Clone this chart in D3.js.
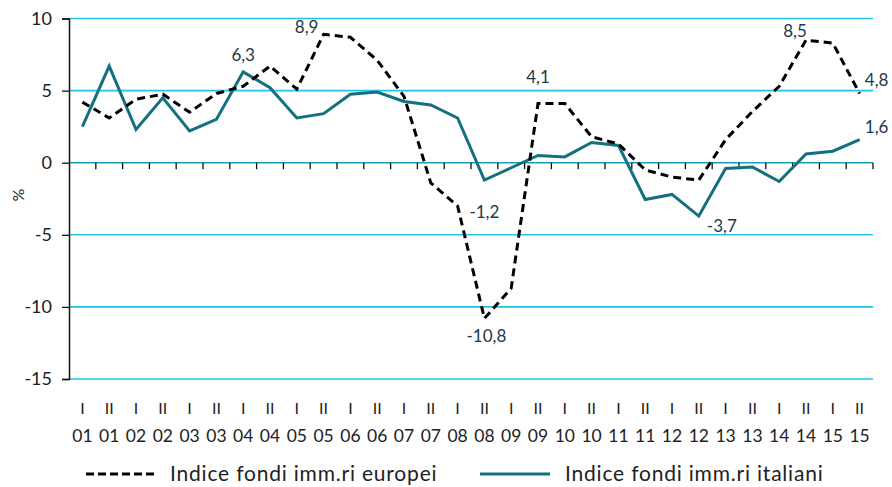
<!DOCTYPE html>
<html><head><meta charset="utf-8">
<script src="https://cdn.jsdelivr.net/npm/d3@7"></script>
<style>
html,body{margin:0;padding:0;background:#fff;}
svg{display:block;font-family:Lato,"Open Sans",sans-serif;}
</style></head>
<body><svg id="c" width="892" height="487"></svg>
<script>
const halves = ["I","II","I","II","I","II","I","II","I","II","I","II","I","II","I","II","I","II","I","II","I","II","I","II","I","II","I","II","I","II"];
const years = ["01","01","02","02","03","03","04","04","05","05","06","06","07","07","08","08","09","09","10","10","11","11","12","12","13","13","14","14","15","15"];
const european = [4.2,3.1,4.4,4.75,3.5,4.8,5.3,6.7,5.1,8.9,8.7,7.1,4.6,-1.4,-3.0,-10.8,-8.7,4.1,4.1,1.8,1.3,-0.5,-1.0,-1.2,1.6,3.55,5.3,8.5,8.3,4.8];
const italian = [2.5,6.7,2.3,4.5,2.2,3.0,6.3,5.2,3.1,3.4,4.75,4.9,4.25,4.0,3.1,-1.2,-0.35,0.5,0.4,1.4,1.2,-2.55,-2.2,-3.7,-0.4,-0.3,-1.3,0.6,0.8,1.6];
const yTicks = [10,5,0,-5,-10,-15];
const seriesNames = ["Indice fondi imm.ri europei","Indice fondi imm.ri italiani"];
const europeanLabels = [[9,"8,9"],[15,"-10,8"],[17,"4,1"],[27,"8,5"],[29,"4,8"]];
const italianLabels = [[6,"6,3"],[15,"-1,2"],[23,"-3,7"],[29,"1,6"]];

const svg = d3.select("#c");
const pLeft = 69, pRight = 873, pTop = 18.5, pBottom = 379;
const idx = d3.range(halves.length);
const x = d3.scaleBand().domain(idx).range([pLeft, pRight]).padding(0);
const cx = i => x(i) + x.bandwidth()/2;
const y = d3.scaleLinear().domain([-15,10]).range([pBottom, pTop]);

const gridColor = "#22c3e6";
const itaColor = "#13707f";
const labelColor = "#1b3a47";

// gridlines
svg.append("g").selectAll("line").data(yTicks).join("line")
  .attr("x1", pLeft).attr("x2", pRight)
  .attr("y1", d => y(d)).attr("y2", d => y(d))
  .attr("stroke", d => d === 0 ? "#1a9cbf" : gridColor).attr("stroke-width", 1.6);

// y axis
const yAxis = d3.axisLeft(y).tickValues(yTicks).tickSize(7).tickPadding(10).tickFormat(d => d);
const gy = svg.append("g").attr("transform", `translate(${pLeft},0)`).call(yAxis);
gy.select(".domain").attr("stroke", "#111").attr("stroke-width", 1.5);
gy.selectAll(".tick line").attr("stroke", "#111").attr("stroke-width", 1.3);
gy.selectAll(".tick text").attr("font-size", 18).attr("fill", "#222").attr("font-family", "Lato,sans-serif");

// x tick marks on zero line (category boundaries)
const bounds = d3.range(1, halves.length + 1).map(k => pLeft + k * x.bandwidth());
svg.append("g").selectAll("line").data(bounds).join("line")
  .attr("x1", d => d).attr("x2", d => d)
  .attr("y1", y(0)).attr("y2", y(0) + 6.5)
  .attr("stroke", "#111").attr("stroke-width", 1.3);

// category labels
svg.append("g").selectAll("text").data(idx).join("text")
  .attr("x", i => cx(i)).attr("y", 414)
  .attr("text-anchor", "middle").attr("font-size", 16).attr("fill", "#222")
  .text(i => halves[i]);
svg.append("g").selectAll("text").data(idx).join("text")
  .attr("x", i => cx(i)).attr("y", 442)
  .attr("text-anchor", "middle").attr("font-size", 17.5).attr("fill", "#222")
  .text(i => years[i]);

// y title
svg.append("text").attr("transform", "translate(24,195) rotate(-90)")
  .attr("text-anchor", "middle").attr("font-size", 16).attr("fill", "#222").text("%");

// lines
const line = d3.line().x((d, i) => cx(i)).y(d => y(d));
svg.append("path").datum(italian).attr("d", line)
  .attr("fill", "none").attr("stroke", itaColor).attr("stroke-width", 3).attr("stroke-linejoin", "miter");
svg.append("path").datum(european).attr("d", line)
  .attr("fill", "none").attr("stroke", "#000").attr("stroke-width", 3).attr("stroke-dasharray", "8,5");

// data labels
const eurOff = {9:[-17,-7],15:[2,18],17:[0,-27],27:[-11,-9],29:[17,-13]};
const itaOff = {6:[0,-17],15:[0,32],23:[23,10],29:[17,-13]};
svg.append("g").selectAll("text").data(europeanLabels).join("text")
  .attr("x", d => cx(d[0]) + eurOff[d[0]][0]).attr("y", d => y(european[d[0]]) + eurOff[d[0]][1] + 6)
  .attr("text-anchor", "middle").attr("font-size", 17).attr("fill", labelColor).text(d => d[1]);
svg.append("g").selectAll("text").data(italianLabels).join("text")
  .attr("x", d => cx(d[0]) + itaOff[d[0]][0]).attr("y", d => y(italian[d[0]]) + itaOff[d[0]][1] + 6)
  .attr("text-anchor", "middle").attr("font-size", 17).attr("fill", labelColor).text(d => d[1]);

// legend
const lg = svg.append("g");
lg.append("line").attr("x1", 86).attr("x2", 157).attr("y1", 474).attr("y2", 474)
  .attr("stroke", "#000").attr("stroke-width", 3).attr("stroke-dasharray", "8,4");
lg.append("text").attr("x", 170).attr("y", 481).attr("font-size", 21).attr("letter-spacing", 0.8).attr("fill", "#222").text(seriesNames[0]);
lg.append("line").attr("x1", 480).attr("x2", 550).attr("y1", 474).attr("y2", 474)
  .attr("stroke", itaColor).attr("stroke-width", 3);
lg.append("text").attr("x", 565).attr("y", 481).attr("font-size", 21).attr("letter-spacing", 0.8).attr("fill", "#222").text(seriesNames[1]);
</script></body></html>
